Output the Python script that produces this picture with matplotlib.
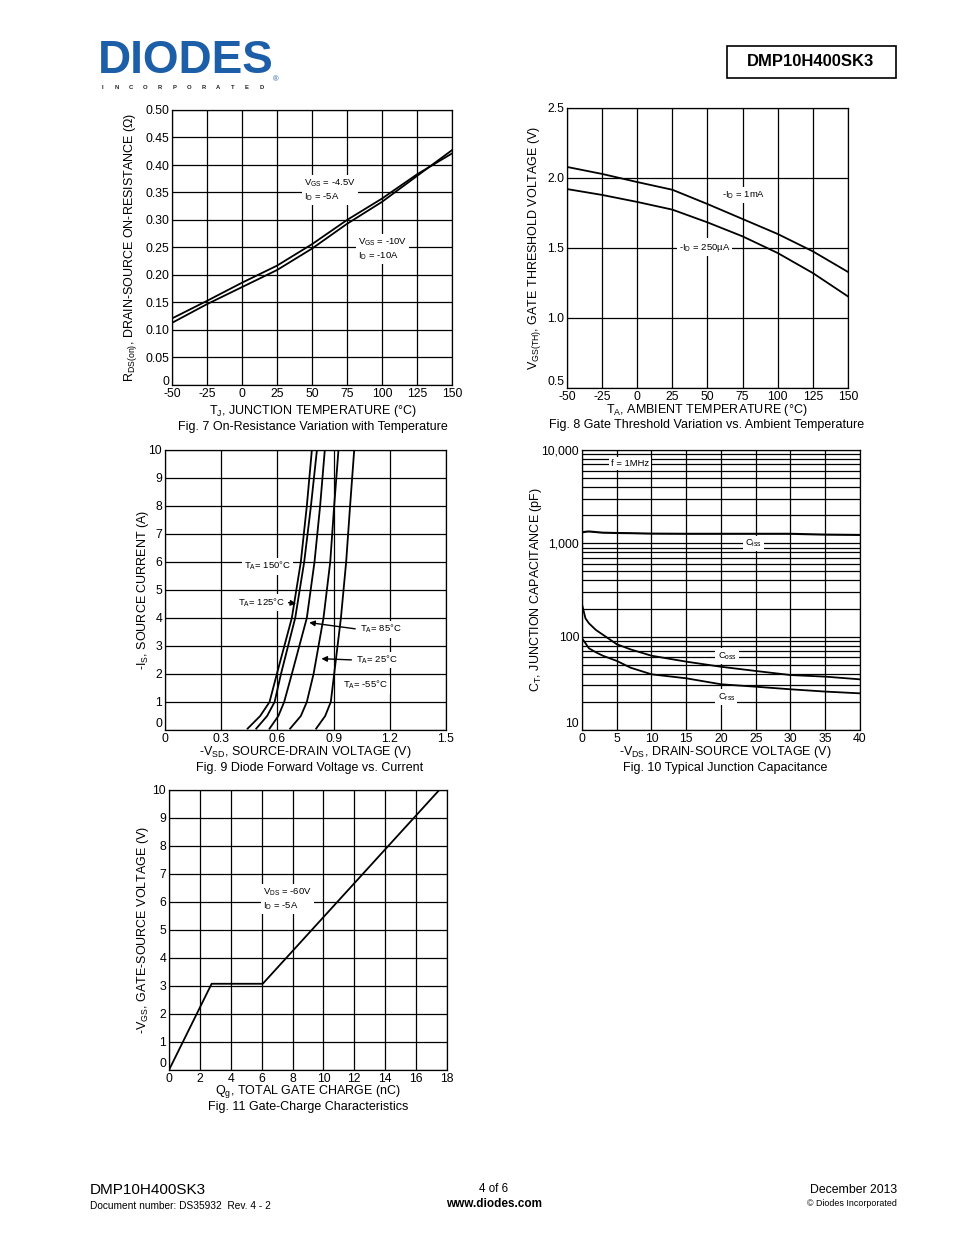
import matplotlib
matplotlib.use("Agg")
import matplotlib.pyplot as plt
from matplotlib.patches import Rectangle

plt.rcParams['font.family'] = ['Liberation Sans', 'DejaVu Sans']
plt.rcParams['mathtext.fontset'] = 'custom'
plt.rcParams['mathtext.rm'] = 'Liberation Sans'
plt.rcParams['mathtext.it'] = 'Liberation Sans'
plt.rcParams['mathtext.default'] = 'rm'
plt.rcParams['axes.unicode_minus'] = False

W, H = 954, 1235

# Fig. 7 - on-resistance vs temperature
temp_x = [-50, -25, 0, 25, 50, 75, 100, 125, 150]
rds_vgs45 = [0.121, 0.153, 0.186, 0.217, 0.256, 0.300, 0.339, 0.383, 0.421]
rds_vgs10 = [0.113, 0.147, 0.178, 0.209, 0.248, 0.293, 0.333, 0.380, 0.427]

# Fig. 8 - gate threshold vs temperature
vth_1ma = [2.079, 2.029, 1.971, 1.916, 1.814, 1.707, 1.600, 1.476, 1.329]
vth_250ua = [1.921, 1.879, 1.829, 1.774, 1.683, 1.583, 1.464, 1.321, 1.154]

# Fig. 9 - diode forward voltage
is_vals = [0.05, 0.5, 1, 2, 4, 6, 8, 10]
vsd_150 = [0.441, 0.508, 0.558, 0.597, 0.677, 0.725, 0.757, 0.784]
vsd_125 = [0.487, 0.545, 0.585, 0.619, 0.695, 0.743, 0.779, 0.811]
vsd_85 = [0.558, 0.605, 0.636, 0.677, 0.757, 0.798, 0.828, 0.853]
vsd_25 = [0.668, 0.725, 0.757, 0.793, 0.846, 0.882, 0.903, 0.926]
vsd_m55 = [0.807, 0.855, 0.885, 0.903, 0.939, 0.967, 0.988, 1.010]

# Fig. 10 - junction capacitance
vds_x = [0, 0.5, 1, 2, 3, 5, 7, 10, 15, 20, 25, 30, 35, 40]
ciss = [1310, 1330, 1340, 1320, 1300, 1290, 1285, 1270, 1265, 1265, 1265, 1265, 1240, 1230]
coss = [222, 157, 139, 118, 105, 83, 73, 62.5, 54, 47.6, 42.9, 38.8, 37.3, 34.9]
crss = [96, 85, 75, 68, 62.5, 55, 46.5, 39.5, 35.8, 30.9, 29.1, 27.3, 25.8, 24.7]

# Fig. 11 - gate charge
qg = [0, 2.76, 6.07, 17.5]
vgs = [0, 3.08, 3.08, 10]

TICK = 8.8
LBL = 9
ANN = 6.8
box = dict(facecolor='white', edgecolor='none', pad=1.5)


def fx(x):
    return x / W


def fy(y):
    return 1 - y / H


def make_ax(fig, left, top, right, bottom):
    ax = fig.add_axes([fx(left), fy(bottom), (right - left) / W, (bottom - top) / H])
    ax.grid(True, color='black', linewidth=0.9)
    ax.set_axisbelow(True)
    ax.tick_params(length=0, labelsize=TICK, pad=2)
    for s in ax.spines.values():
        s.set_linewidth(0.9)
    return ax


def lift_first_ylabel(ax, va='bottom'):
    # datasheet puts the lowest y label a little above the corner
    fig.canvas.draw()
    ax.get_yticklabels()[0].set_va(va)


def put(x, y, s, **kw):
    kw.setdefault('ha', 'center')
    kw.setdefault('va', 'baseline')
    kw.setdefault('fontsize', LBL)
    fig.text(fx(x), fy(y), s, **kw)


fig = plt.figure(figsize=(W / 100, H / 100), dpi=100)

# ---------- Fig 7
ax = make_ax(fig, 172, 110, 452, 385)
ax.plot(temp_x, rds_vgs45, color='black', lw=1.3)
ax.plot(temp_x, rds_vgs10, color='black', lw=1.3)
ax.set_xlim(-50, 150)
ax.set_ylim(0, 0.5)
ax.set_xticks(temp_x)
ax.set_yticks([i * 0.05 for i in range(11)])
ax.set_yticklabels(['0'] + ['%.2f' % (i * 0.05) for i in range(1, 11)])
ax.set_ylabel(r'R$_{\mathrm{DS(on)}}$, DRAIN-SOURCE ON-RESISTANCE ($\Omega$)', fontsize=LBL)
ax.yaxis.set_label_coords(-0.117, 0.5)
ax.text(44.3, 0.354, 'V$_{\\mathrm{GS}}$ = -4.5V\nI$_{\\mathrm{D}}$ = -5A', fontsize=ANN,
        bbox=box, va='center')
ax.text(82.9, 0.247, 'V$_{\\mathrm{GS}}$ = -10V\nI$_{\\mathrm{D}}$ = -10A', fontsize=ANN,
        bbox=box, va='center')
put(313, 414, r'T$_{\mathrm{J}}$, JUNCTION TEMPERATURE ($\degree$C)')
put(313, 430, 'Fig. 7 On-Resistance Variation with Temperature')
lift_first_ylabel(ax, 'baseline')

# ---------- Fig 8
ax = make_ax(fig, 567, 108, 848, 388)
ax.plot(temp_x, vth_1ma, color='black', lw=1.3)
ax.plot(temp_x, vth_250ua, color='black', lw=1.3)
ax.set_xlim(-50, 150)
ax.set_ylim(0.5, 2.5)
ax.set_xticks(temp_x)
ax.set_yticks([0.5, 1.0, 1.5, 2.0, 2.5])
ax.set_yticklabels(['0.5', '1.0', '1.5', '2.0', '2.5'])
ax.set_ylabel(r'V$_{\mathrm{GS(TH)}}$, GATE THRESHOLD VOLTAGE (V)', fontsize=LBL)
ax.yaxis.set_label_coords(-0.084, 0.5)
ax.text(60.3, 1.879, '-I$_{\\mathrm{D}}$ = 1mA', fontsize=ANN, bbox=box, va='center')
ax.text(29.7, 1.507, '-I$_{\\mathrm{D}}$ = 250\u00b5A', fontsize=ANN, bbox=box, va='center')
put(707, 413, r'T$_{\mathrm{A}}$, AMBIENT TEMPERATURE ($\degree$C)')
put(707, 428, 'Fig. 8 Gate Threshold Variation vs. Ambient Temperature')
lift_first_ylabel(ax)

# ---------- Fig 9
ax = make_ax(fig, 165, 450, 446, 730)
for v in [vsd_150, vsd_125, vsd_85, vsd_25, vsd_m55]:
    ax.plot(v, is_vals, color='black', lw=1.3)
ax.set_xlim(0, 1.5)
ax.set_ylim(0, 10)
ax.set_xticks([0, 0.3, 0.6, 0.9, 1.2, 1.5])
ax.set_xticklabels(['0', '0.3', '0.6', '0.9', '1.2', '1.5'])
ax.set_yticks(range(11))
ax.set_ylabel(r'-I$_{\mathrm{S}}$, SOURCE CURRENT (A)', fontsize=LBL)
ax.yaxis.set_label_coords(-0.051, 0.5)
ax.text(0.42, 5.85, 'T$_{\\mathrm{A}}$= 150\u00b0C', fontsize=ANN, bbox=box, va='center')
ax.text(0.39, 4.55, 'T$_{\\mathrm{A}}$= 125\u00b0C', fontsize=ANN, bbox=box, va='center')
ax.annotate('', xy=(0.715, 4.5), xytext=(0.645, 4.56),
            arrowprops=dict(arrowstyle='-|>', color='black', lw=1, mutation_scale=8))
ax.text(1.04, 3.6, 'T$_{\\mathrm{A}}$= 85\u00b0C', fontsize=ANN, bbox=box, va='center')
ax.annotate('', xy=(0.755, 3.85), xytext=(1.03, 3.6),
            arrowprops=dict(arrowstyle='-|>', color='black', lw=1, mutation_scale=8))
ax.text(1.02, 2.5, 'T$_{\\mathrm{A}}$= 25\u00b0C', fontsize=ANN, bbox=box, va='center')
ax.annotate('', xy=(0.82, 2.55), xytext=(1.01, 2.5),
            arrowprops=dict(arrowstyle='-|>', color='black', lw=1, mutation_scale=8))
ax.text(0.95, 1.6, 'T$_{\\mathrm{A}}$= -55\u00b0C', fontsize=ANN, bbox=box, va='center')
put(305, 755, r'-V$_{\mathrm{SD}}$, SOURCE-DRAIN VOLTAGE (V)')
put(310, 771, 'Fig. 9 Diode Forward Voltage vs. Current')
lift_first_ylabel(ax)

# ---------- Fig 10
ax = make_ax(fig, 582, 450, 860, 730)
ax.set_yscale('log')
ax.grid(True, which='minor', color='black', linewidth=0.9)
ax.tick_params(which='minor', length=0)
ax.plot(vds_x, ciss, color='black', lw=1.5)
ax.plot(vds_x, coss, color='black', lw=1.3)
ax.plot(vds_x, crss, color='black', lw=1.3)
ax.set_xlim(0, 40)
ax.set_ylim(10, 10000)
ax.set_xticks(range(0, 41, 5))
ax.set_yticks([10, 100, 1000, 10000])
ax.set_yticklabels(['10', '100', '1,000', '10,000'])
ax.yaxis.set_minor_formatter(matplotlib.ticker.NullFormatter())
ax.set_ylabel(r'C$_{\mathrm{T}}$, JUNCTION CAPACITANCE (pF)', fontsize=LBL)
ax.yaxis.set_label_coords(-0.138, 0.5)
ax.text(4.2, 7200, 'f = 1MHz', fontsize=ANN, bbox=box, va='center')
ax.text(23.4, 1000, 'C$_{\\mathrm{iss}}$', fontsize=ANN, bbox=box, va='center')
ax.text(19.5, 62, 'C$_{\\mathrm{oss}}$', fontsize=ANN, bbox=box, va='center')
ax.text(19.5, 22.6, 'C$_{\\mathrm{rss}}$', fontsize=ANN, bbox=box, va='center')
put(725, 755, r'-V$_{\mathrm{DS}}$, DRAIN-SOURCE VOLTAGE (V)')
put(725, 771, 'Fig. 10 Typical Junction Capacitance')
lift_first_ylabel(ax)

# ---------- Fig 11
ax = make_ax(fig, 169, 790, 447, 1070)
ax.plot(qg, vgs, color='black', lw=1.3)
ax.set_xlim(0, 18)
ax.set_ylim(0, 10)
ax.set_xticks(range(0, 19, 2))
ax.set_yticks(range(11))
ax.set_ylabel(r'-V$_{\mathrm{GS}}$, GATE-SOURCE VOLTAGE (V)', fontsize=LBL)
ax.yaxis.set_label_coords(-0.064, 0.5)
ax.text(6.1, 6.1, 'V$_{\\mathrm{DS}}$ = -60V\nI$_{\\mathrm{D}}$ = -5A', fontsize=ANN, bbox=box,
        va='center')
put(308, 1094, r'Q$_{\mathrm{g}}$, TOTAL GATE CHARGE (nC)')
put(308, 1110, 'Fig. 11 Gate-Charge Characteristics')
lift_first_ylabel(ax)

# ---------- header
put(98, 83, 'DIODES', fontsize=33, fontweight='bold', color='#1d5ea8', ha='left', va='bottom')
for i, ch in enumerate('INCORPORATED'):
    put(102 + i * 14.5, 87.5, ch, fontsize=4.2, fontweight='bold', color='#222222', va='center')
put(276, 80, '\u00ae', fontsize=5.5, color='#1d5ea8', va='center')
fig.patches.append(Rectangle((fx(727), fy(78)), (896 - 727) / W, 32 / H, transform=fig.transFigure,
                             fill=False, edgecolor='black', lw=1.2))
put(811, 62, 'DMP10H400SK3', fontsize=12, fontweight='bold', va='center')

# ---------- footer
put(90, 1190, 'DMP10H400SK3', fontsize=11, ha='left', va='center')
put(90, 1206, 'Document number: DS35932  Rev. 4 - 2', fontsize=7.3, ha='left', va='center')
put(494, 1189, '4 of 6', fontsize=8.3, va='center')
put(494, 1204, 'www.diodes.com', fontsize=8.5, fontweight='bold', va='center')
put(897, 1190, 'December 2013', fontsize=8.8, ha='right', va='center')
put(897, 1204, '\u00a9 Diodes Incorporated', fontsize=6.4, ha='right', va='center')

fig.savefig('out.png', dpi=100)
